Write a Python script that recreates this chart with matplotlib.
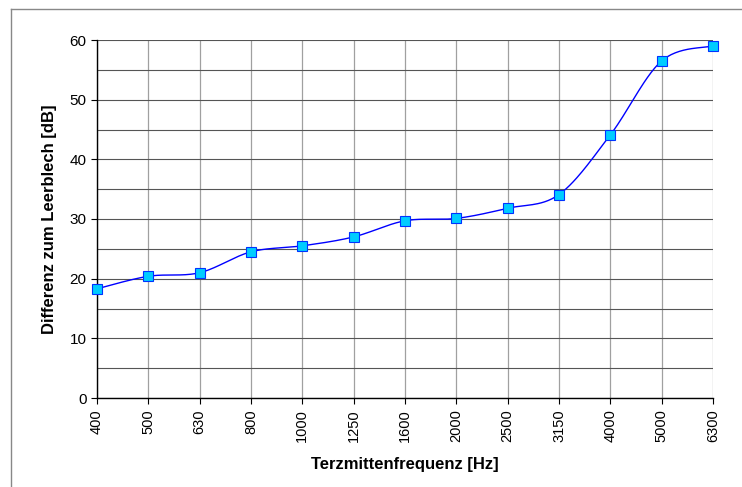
import matplotlib.pyplot as plt
import numpy as np
from matplotlib.lines import Line2D
from matplotlib.ticker import MultipleLocator

plt.rcParams['font.family'] = ['Liberation Sans', 'DejaVu Sans']

freqs = ['400', '500', '630', '800', '1000', '1250', '1600', '2000',
         '2500', '3150', '4000', '5000', '6300']
diff_db = [18.3, 20.4, 21.0, 24.5, 25.5, 27.0, 29.7, 30.1,
           31.8, 34.1, 44.1, 56.5, 59.0]


def smooth(x, y, n=30):
    # Catmull-Rom style smoothing like Excel's "smoothed line"
    x = np.asarray(x, float)
    y = np.asarray(y, float)
    px = np.concatenate([[x[0]], x, [x[-1]]])
    py = np.concatenate([[y[0]], y, [y[-1]]])
    xs, ys = [], []
    t = np.linspace(0, 1, n)
    for i in range(1, len(px) - 2):
        p0, p1, p2, p3 = [np.array([px[j], py[j]]) for j in (i - 1, i, i + 1, i + 2)]
        c1 = p1 + (p2 - p0) / 6
        c2 = p2 - (p3 - p1) / 6
        b = ((1 - t) ** 3)[:, None] * p1 + (3 * (1 - t) ** 2 * t)[:, None] * c1 \
            + (3 * (1 - t) * t ** 2)[:, None] * c2 + (t ** 3)[:, None] * p2
        xs.extend(b[:, 0])
        ys.extend(b[:, 1])
    return np.array(xs), np.array(ys)


fig = plt.figure(figsize=(7.42, 4.87), dpi=100)
ax = fig.add_axes([97 / 742, 1 - 398 / 487, (713 - 97) / 742, (398 - 40) / 487])

xpos = np.arange(len(freqs))
sx, sy = smooth(xpos, diff_db)
ax.plot(sx, sy, color='#0000FF', lw=1.0, zorder=3)
ax.plot(xpos, diff_db, ls='none', marker='s', ms=6.5, mfc='#00CCFF',
        mec='#0033FF', mew=0.8, zorder=4, clip_on=False)

ax.set_xlim(0, len(freqs) - 1)
ax.set_ylim(0, 60)
ax.set_xticks(xpos)
ax.set_xticklabels(freqs, rotation=90, fontsize=10.5)
ax.yaxis.set_major_locator(MultipleLocator(10))
ax.yaxis.set_minor_locator(MultipleLocator(5))
ax.tick_params(axis='y', labelsize=11, length=4, width=0.8)
ax.tick_params(axis='y', which='minor', length=0)
ax.tick_params(axis='x', length=4, width=0.8, pad=4)

ax.grid(True, which='both', axis='y', color='#555555', lw=0.8)
ax.grid(True, which='major', axis='x', color='#a0a0a0', lw=0.9)
ax.set_axisbelow(True)

for s in ['top', 'right']:
    ax.spines[s].set_visible(False)
for s in ['left', 'bottom']:
    ax.spines[s].set_linewidth(1.0)

ax.set_xlabel('Terzmittenfrequenz [Hz]', fontsize=12, fontweight='bold', labelpad=11)
ax.set_ylabel('Differenz zum Leerblech [dB]', fontsize=12, fontweight='bold', labelpad=9)

# outer chart frame (only top and left visible)
fig.add_artist(Line2D([11 / 742, 11 / 742], [0, 1 - 9 / 487], color='#888888', lw=1))
fig.add_artist(Line2D([11 / 742, 1], [1 - 9 / 487, 1 - 9 / 487], color='#888888', lw=1))

fig.savefig('out.png', dpi=100)
